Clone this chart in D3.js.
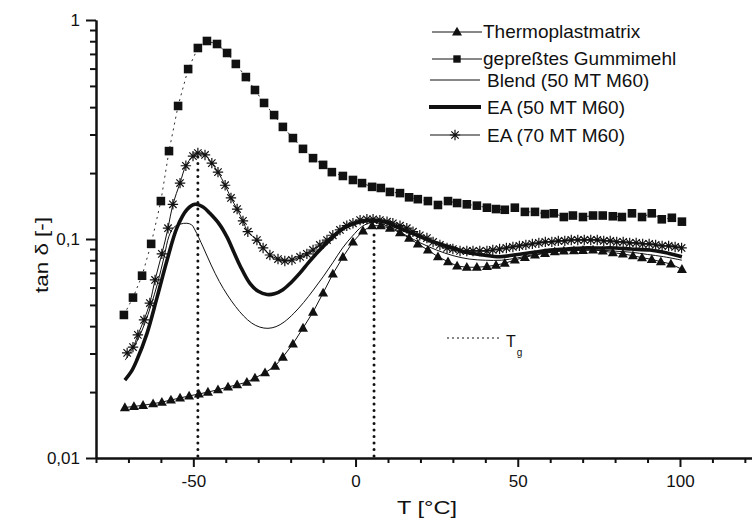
<!DOCTYPE html>
<html><head><meta charset="utf-8">
<script src="https://cdn.jsdelivr.net/npm/d3@7"></script>
<style>
body{margin:0;background:#fff}
svg{display:block}
text{font-family:Arial,"Liberation Sans",sans-serif;fill:#111}
</style>
</head><body>
<svg id="c" width="752" height="525"></svg>
<script>
// ---------- DATA ----------
const thermoT = [-71.1,-68.3,-65.5,-62.4,-59.7,-56.9,-54.1,-51.3,-48.3,-45.5,-42.4,-39.3,-36.5,-33.5,-31.0,-27.9,-24.8,-22.4,-19.3,-16.2,-13.1,-10.0,-7.0,-3.9,-0.8,2.3,5.1,7.8,10.6,13.7,16.5,19.2,22.3,25.4,28.5,31.3,34.3,37.4,40.5,43.3,46.0,49.1,52.2,55.3,58.4,61.4,64.2,67.3,70.1,73.2,76.2,79.3,82.4,85.5,88.3,91.3,94.1,97.2,100.6];
const thermoV = [0.0170,0.0172,0.0174,0.0177,0.0180,0.0184,0.0188,0.0192,0.0196,0.0200,0.0205,0.0211,0.0216,0.0222,0.0232,0.0245,0.0263,0.0289,0.0332,0.0392,0.0464,0.0567,0.0692,0.0827,0.0969,0.109,0.115,0.115,0.112,0.107,0.101,0.095,0.0891,0.083,0.0788,0.0753,0.0743,0.0743,0.0749,0.076,0.0775,0.0802,0.0825,0.0845,0.0860,0.0875,0.0882,0.0885,0.0888,0.0891,0.0882,0.0866,0.0855,0.0839,0.0822,0.0807,0.0788,0.0769,0.0727];

const gummiT = [-71.4,-68.6,-65.8,-63.0,-60.0,-57.5,-54.7,-51.6,-48.6,-45.8,-42.7,-39.6,-36.9,-33.8,-31.0,-28.2,-25.1,-22.4,-19.3,-16.2,-13.1,-10.0,-7.3,-3.9,-0.8,2.0,5.1,7.8,10.6,13.7,16.5,19.2,22.3,25.4,28.5,31.3,34.3,37.4,40.5,43.3,46.0,49.1,52.2,55.3,58.4,61.1,64.2,67.0,70.1,73.2,76.2,79.3,82.1,85.2,88.3,91.3,94.4,97.5,100.6];
const gummiV = [0.045,0.054,0.068,0.095,0.149,0.252,0.405,0.597,0.745,0.802,0.777,0.707,0.630,0.549,0.479,0.418,0.368,0.325,0.289,0.258,0.234,0.218,0.202,0.194,0.186,0.180,0.173,0.171,0.164,0.162,0.155,0.152,0.149,0.143,0.149,0.146,0.144,0.142,0.139,0.137,0.136,0.139,0.133,0.133,0.130,0.131,0.126,0.128,0.126,0.128,0.128,0.127,0.126,0.131,0.126,0.131,0.123,0.125,0.120];

const blendT = [-71,-69,-67,-65,-63,-61,-59,-57.5,-56,-54,-52,-50.5,-49.5,-47,-44.5,-42,-39.5,-37,-34.5,-32,-29.5,-27,-24.5,-22,-19,-16,-13,-10,-7,-4,-1,2,5,8,12,16,20,25,30,35,40,45,50,55,60,65,70,75,80,85,90,95,100.6];
const blendV = [0.028,0.031,0.035,0.041,0.050,0.063,0.083,0.103,0.113,0.117,0.118,0.116,0.110,0.092,0.076,0.064,0.0555,0.0492,0.0445,0.0413,0.0396,0.0391,0.0398,0.0418,0.0458,0.0513,0.0585,0.0672,0.078,0.091,0.103,0.114,0.119,0.117,0.111,0.103,0.096,0.089,0.084,0.081,0.080,0.080,0.082,0.085,0.087,0.089,0.089,0.089,0.088,0.087,0.085,0.083,0.080];

const ea50T = [-71.1,-69,-67.4,-64.3,-61.2,-58.1,-55,-52,-49.5,-47,-44.9,-42,-39.6,-37.5,-35.6,-32.5,-30,-27.3,-25,-22.4,-20,-17.1,-14.5,-11.9,-9.5,-7.0,-4.5,-1.7,1.5,5.4,9,13,18.9,24,29.1,34,39.3,44.5,50,55,59.9,65,70,75.3,80,85,90.7,95,100.6];
const ea50V = [0.0227,0.025,0.028,0.037,0.054,0.080,0.113,0.136,0.144,0.140,0.131,0.117,0.102,0.087,0.0755,0.0625,0.0577,0.0558,0.0562,0.0587,0.063,0.070,0.078,0.0863,0.094,0.102,0.110,0.116,0.120,0.122,0.120,0.113,0.104,0.097,0.092,0.087,0.0845,0.083,0.085,0.087,0.089,0.090,0.091,0.091,0.091,0.090,0.089,0.087,0.083];

const ea70T = [-70.4,-68.6,-67.1,-65.2,-63.4,-61.8,-59.7,-57.8,-56.3,-54.1,-52.3,-50.1,-48.6,-46.4,-44.3,-42.4,-40.2,-38.4,-36.5,-34.7,-33.2,-30.4,-28.5,-26.4,-23.9,-21.8,-19.6,-17.1,-15.0,-13.1,-11.0,-8.8,-7.0,-4.8,-2.7,-0.8,1.4,3.5,5.4,7.5,9.7,11.5,13.7,15.8,17.7,19.8,22.0,23.9,26.0,28.2,30.0,32.2,34.3,36.2,38.3,40.5,42.3,44.4,46.5,48.5,50.5,52.5,54.5,56.5,58.5,60.5,62.5,64.5,66.5,68.5,70.5,72.5,74.5,76.5,78.5,80.5,82.5,84.5,86.5,88.5,90.5,92.5,94.5,96.5,98.5,100.5];
const ea70V = [0.0302,0.0321,0.0365,0.0427,0.0510,0.0650,0.0855,0.112,0.144,0.180,0.216,0.239,0.247,0.242,0.222,0.202,0.176,0.154,0.137,0.121,0.108,0.0989,0.0910,0.0845,0.0810,0.0794,0.0802,0.0828,0.0855,0.0891,0.0939,0.0989,0.104,0.110,0.115,0.118,0.122,0.123,0.123,0.122,0.120,0.118,0.115,0.112,0.108,0.104,0.101,0.0969,0.0939,0.0910,0.0900,0.0882,0.0882,0.0882,0.0882,0.0882,0.0891,0.090,0.091,0.092,0.093,0.094,0.095,0.096,0.097,0.097,0.098,0.098,0.099,0.099,0.099,0.099,0.099,0.098,0.098,0.097,0.097,0.096,0.096,0.095,0.095,0.094,0.093,0.093,0.092,0.091];

// glass transition markers (T, top tan δ)
const tgT = [-48.6, 5.7];
const tgTop = [0.245, 0.11];

const xMajor = [-50, 0, 50, 100];
const xMinor = [-80,-70,-60,-40,-30,-20,-10,10,20,30,40,60,70,80,90,110,120];
const yMajor = [0.01, 0.1, 1];
const yMajorLabels = ["0,01", "0,1", "1"];
const yMinor = [0.02,0.03,0.04,0.05,0.06,0.07,0.08,0.09,0.2,0.3,0.4,0.5,0.6,0.7,0.8,0.9];

const legendLabels = ["Thermoplastmatrix", "gepreßtes Gummimehl", "Blend (50 MT M60)", "EA (50 MT M60)", "EA (70 MT M60)"];
const xTitle = "T [°C]";
const yTitle = "tan δ [-]";

// ---------- CHART ----------
const svg = d3.select("#c");
const x = d3.scaleLinear().domain([-80, 122.2]).range([96, 752]);
const y = d3.scaleLog().domain([0.01, 1]).range([458, 20]);
const ink = "#111";

const zip = (a, b) => a.map((t, i) => [t, b[i]]);
const thermo = zip(thermoT, thermoV);
const gummi = zip(gummiT, gummiV);
const blend = zip(blendT, blendV);
const ea50 = zip(ea50T, ea50V);
const ea70 = zip(ea70T, ea70V);

// axes
function styleAxis(g) {
  g.select(".domain").attr("stroke", ink).attr("stroke-width", 2);
  g.selectAll(".tick line").attr("stroke", ink).attr("stroke-width", 2);
  g.selectAll(".tick text").attr("fill", ink).style("font-size", "17px")
    .style("font-family", "Arial, 'Liberation Sans', sans-serif");
}
svg.append("g").attr("transform", "translate(0,458)")
  .call(d3.axisBottom(x).tickValues(xMinor).tickSize(5).tickSizeOuter(0).tickFormat(""))
  .call(styleAxis);
svg.append("g").attr("transform", "translate(0,458)")
  .call(d3.axisBottom(x).tickValues(xMajor).tickSize(9).tickPadding(8).tickSizeOuter(0).tickFormat(d => String(d)))
  .call(styleAxis);
svg.append("g").attr("transform", "translate(96,0)")
  .call(d3.axisLeft(y).tickValues(yMinor).tickSize(6).tickSizeOuter(0).tickFormat(""))
  .call(styleAxis);
svg.append("g").attr("transform", "translate(96,0)")
  .call(d3.axisLeft(y).tickValues(yMajor).tickSize(10).tickPadding(6).tickSizeOuter(0)
    .tickFormat((d, i) => yMajorLabels[i]))
  .call(styleAxis);

// axis titles
svg.append("text").attr("x", 427).attr("y", 514).attr("text-anchor", "middle")
  .style("font-size", "19px").attr("textLength", 60).attr("lengthAdjust", "spacingAndGlyphs").text(xTitle);
svg.append("text").attr("transform", "translate(48,255) rotate(-90)").attr("text-anchor", "middle")
  .style("font-size", "19px").attr("textLength", 76).attr("lengthAdjust", "spacingAndGlyphs").text(yTitle);

const plot = svg.append("g");
const straight = d3.line().x(d => x(d[0])).y(d => y(d[1]));
const smooth = d3.line().curve(d3.curveCatmullRom.alpha(0.5)).x(d => x(d[0])).y(d => y(d[1]));

// marker shapes
const triPath = "M0,-5.2L5,3.6L-5,3.6Z";
const sqPath = "M-4.3,-4.3H4.3V4.3H-4.3Z";
const starPath = "M0,-5.2V5.2M-5.2,0H5.2M-3.7,-3.7L3.7,3.7M-3.7,3.7L3.7,-3.7";

// connecting lines
plot.append("path").datum(gummi).attr("d", straight).attr("fill", "none")
  .attr("stroke", ink).attr("stroke-width", 0.9).attr("stroke-dasharray", "2,4");
plot.append("path").datum(thermo).attr("d", straight).attr("fill", "none")
  .attr("stroke", ink).attr("stroke-width", 1);
plot.append("path").datum(blend).attr("d", smooth).attr("fill", "none")
  .attr("stroke", ink).attr("stroke-width", 1);
plot.append("path").datum(ea50).attr("d", smooth).attr("fill", "none")
  .attr("stroke", ink).attr("stroke-width", 3.6);
plot.append("path").datum(ea70).attr("d", smooth).attr("fill", "none")
  .attr("stroke", ink).attr("stroke-width", 1);

// markers
plot.append("g").selectAll("path").data(gummi).join("path")
  .attr("transform", d => `translate(${x(d[0])},${y(d[1])})`).attr("d", sqPath).attr("fill", ink);
plot.append("g").selectAll("path").data(thermo).join("path")
  .attr("transform", d => `translate(${x(d[0])},${y(d[1])})`).attr("d", triPath).attr("fill", ink);
plot.append("g").selectAll("path").data(ea70).join("path")
  .attr("transform", d => `translate(${x(d[0])},${y(d[1])})`).attr("d", starPath)
  .attr("fill", "none").attr("stroke", ink).attr("stroke-width", 1.2);

// Tg dotted verticals
plot.append("g").selectAll("line").data(tgT).join("line")
  .attr("x1", d => x(d)).attr("x2", d => x(d))
  .attr("y1", y(0.01) - 2).attr("y2", (d, i) => y(tgTop[i]))
  .attr("stroke", ink).attr("stroke-width", 3).attr("stroke-linecap", "round")
  .attr("stroke-dasharray", "0.1,6.4");

// legend
const lg = svg.append("g");
const rows = [
  {y: 32, tx: 483, ty: 38, lx1: 432, lx2: 482, w: 1, mark: triPath, fill: true},
  {y: 59, tx: 483, ty: 65, lx1: 432, lx2: 482, w: 1, mark: "M-3.7,-3.7H3.7V3.7H-3.7Z", fill: true},
  {y: 80, tx: 487, ty: 87, lx1: 430, lx2: 480, w: 1, mark: null},
  {y: 107, tx: 487, ty: 114, lx1: 429, lx2: 481, w: 4, mark: null},
  {y: 135, tx: 487, ty: 142, lx1: 430, lx2: 480, w: 1.2, mark: starPath, fill: false}
];
rows.forEach((r, i) => {
  lg.append("line").attr("x1", r.lx1).attr("x2", r.lx2).attr("y1", r.y).attr("y2", r.y)
    .attr("stroke", ink).attr("stroke-width", r.w);
  if (r.mark) {
    const m = lg.append("path").attr("d", r.mark)
      .attr("transform", `translate(${(r.lx1 + r.lx2) / 2},${r.y})`);
    if (r.fill) m.attr("fill", ink);
    else m.attr("fill", "none").attr("stroke", ink).attr("stroke-width", 1.2);
  }
  lg.append("text").attr("x", r.tx).attr("y", r.ty).style("font-size", "19px").text(legendLabels[i]);
});

// Tg legend
lg.append("line").attr("x1", 447).attr("x2", 500).attr("y1", 338).attr("y2", 338)
  .attr("stroke", ink).attr("stroke-width", 1.2).attr("stroke-dasharray", "2,3");
const tg = lg.append("text").attr("x", 506).attr("y", 347).style("font-size", "16px");
tg.append("tspan").text("T");
tg.append("tspan").attr("dy", 9).attr("dx", 1).style("font-size", "10px").text("g");
</script>
</body></html>
